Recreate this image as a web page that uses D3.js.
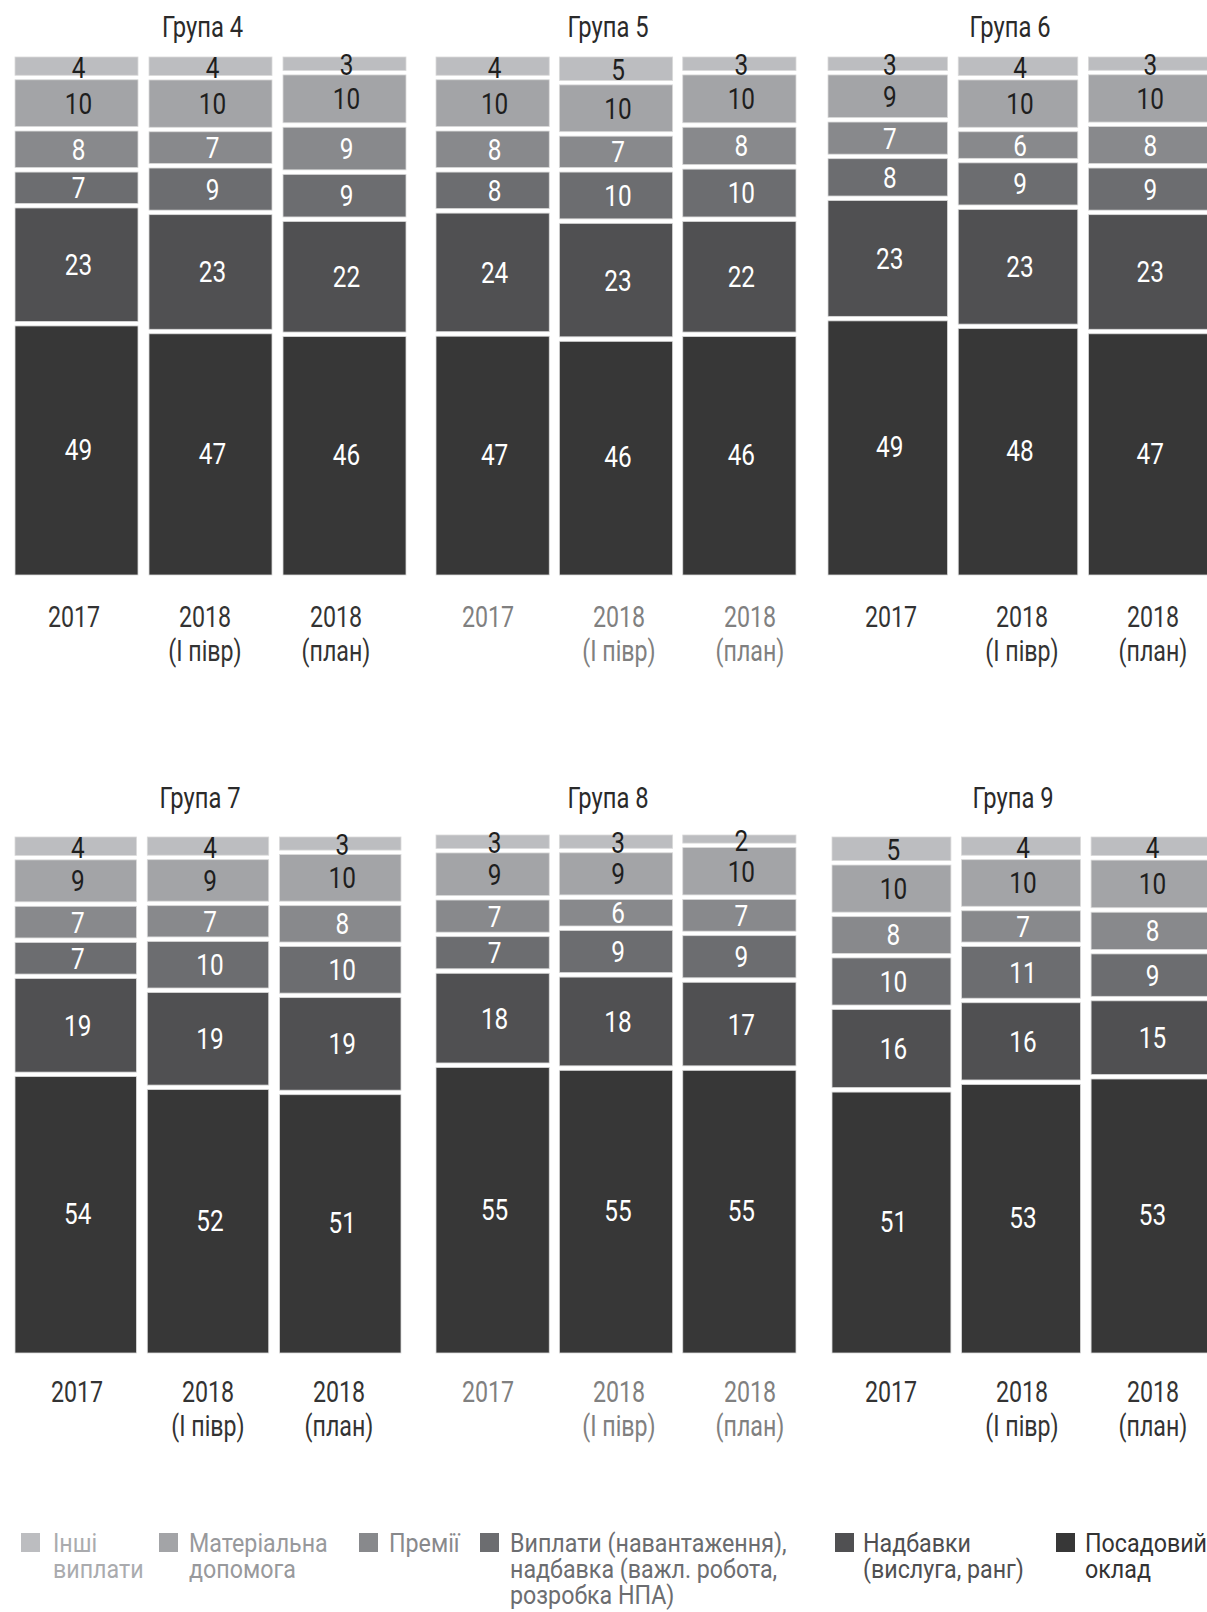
<!DOCTYPE html>
<html>
<head>
<meta charset="utf-8">
<script src="https://cdn.jsdelivr.net/npm/d3@7"></script>
<style>
  html, body { margin: 0; padding: 0; background: #fff; }
  svg { display: block; }
  text { font-family: "Roboto", "Liberation Sans", sans-serif; font-weight: 400; }
</style>
</head>
<body>
<svg id="chart" width="1207" height="1612"></svg>
<script>
// ---------------- DATA ----------------
const groups = ["Група 4", "Група 5", "Група 6", "Група 7", "Група 8", "Група 9"];
const periods = [["2017"], ["2018", "(І півр)"], ["2018", "(план)"]];
// stacking order: bottom -> top
const categories = ["Посадовий оклад", "Надбавки (вислуга, ранг)", "Виплати (навантаження), надбавка (важл. робота, розробка НПА)", "Премії", "Матеріальна допомога", "Інші виплати"];
// values[group][period]
const posadovyi   = [[49, 47, 46], [47, 46, 46], [49, 48, 47], [54, 52, 51], [55, 55, 55], [51, 53, 53]];
const nadbavky    = [[23, 23, 22], [24, 23, 22], [23, 23, 23], [19, 19, 19], [18, 18, 17], [16, 16, 15]];
const vyplaty     = [[7, 9, 9],    [8, 10, 10],  [8, 9, 9],    [7, 10, 10],  [7, 9, 9],    [10, 11, 9]];
const premii      = [[8, 7, 9],    [8, 7, 8],    [7, 6, 8],    [7, 7, 8],    [7, 6, 7],    [8, 7, 8]];
const materialna  = [[10, 10, 10], [10, 10, 10], [9, 10, 10],  [9, 9, 10],   [9, 9, 10],   [10, 10, 10]];
const inshi       = [[4, 4, 3],    [4, 5, 3],    [3, 4, 3],    [4, 4, 3],    [3, 3, 2],    [5, 4, 4]];
const legendLabels = [["Інші", "виплати"], ["Матеріальна", "допомога"], ["Премії"],
  ["Виплати (навантаження),", "надбавка (важл. робота,", "розробка НПА)"],
  ["Надбавки", "(вислуга, ранг)"], ["Посадовий", "оклад"]];

// ---------------- STYLE / LAYOUT ----------------
const seriesArrays = [posadovyi, nadbavky, vyplaty, premii, materialna, inshi];
const keys = ["posadovyi", "nadbavky", "vyplaty", "premii", "materialna", "inshi"];
const colors = ["#373737", "#505052", "#6c6d70", "#88898c", "#a3a4a7", "#bcbdc0"];
const labelColors = ["#ffffff", "#ffffff", "#ffffff", "#ffffff", "#1e1e1e", "#1e1e1e"];
const legendTextColors = ["#aaabae", "#98999c", "#88898c", "#6c6d70", "#4f4f51", "#333333"];

const panels = [
  { x: [15, 406],  y: [575, 57],   titleY: 37,  yearY: 627,  labelX0: 74,  yearColor: "#333" },
  { x: [436, 796], y: [575, 57],   titleY: 37,  yearY: 627,  labelX0: 488, yearColor: "#808080" },
  { x: [828, 1208], y: [575, 57],  titleY: 37,  yearY: 627,  labelX0: 891, yearColor: "#333" },
  { x: [15, 401],  y: [1353, 837], titleY: 808, yearY: 1402, labelX0: 77,  yearColor: "#333" },
  { x: [436, 796], y: [1353, 835], titleY: 808, yearY: 1402, labelX0: 488, yearColor: "#808080" },
  { x: [832, 1210], y: [1353, 837], titleY: 808, yearY: 1402, labelX0: 891, yearColor: "#333" }
];
const labelStep = 131;
const gap = 4.5;

const svg = d3.select("#chart");
const stack = d3.stack().keys(keys).offset(d3.stackOffsetExpand);

function condensedText(parent, x, y, lines, lineH, opts) {
  const t = parent.append("text")
    .attr("transform", `translate(${x},${y}) scale(${opts.sx || 0.8},1)`)
    .attr("x", 0).attr("y", 0)
    .attr("font-size", opts.size)
    .attr("fill", opts.fill)
    .attr("text-anchor", opts.anchor || "start");
  lines.forEach((ln, k) => {
    t.append("tspan").attr("x", 0).attr("dy", k === 0 ? (opts.dy || 0) : lineH).text(ln);
  });
  return t;
}

groups.forEach((gName, gi) => {
  const p = panels[gi];
  const rows = periods.map((per, pi) => {
    const r = { period: pi };
    keys.forEach((k, ki) => r[k] = seriesArrays[ki][gi][pi]);
    return r;
  });
  const series = stack(rows);
  const x = d3.scaleBand().domain(d3.range(periods.length)).range(p.x).paddingInner(0.082).paddingOuter(0);
  const y = d3.scaleLinear().domain([0, 1]).range(p.y);
  const g = svg.append("g");

  const top = d => y(d[1]) + (d[1] < 0.9999 ? gap / 2 : 0);
  const bot = d => y(d[0]) - (d[0] > 0.0001 ? gap / 2 : 0);

  series.forEach((s, si) => {
    g.append("g").selectAll("rect").data(s).join("rect")
      .attr("x", (d, i) => x(i))
      .attr("width", x.bandwidth())
      .attr("y", top)
      .attr("height", d => bot(d) - top(d))
      .attr("fill", colors[si])
      .attr("stroke", "#dadada")
      .attr("stroke-width", 0.8);
  });
  series.forEach((s, si) => {
    s.forEach((d, i) => {
      condensedText(g, x(i) + x.bandwidth() / 2 + 2, (y(d[0]) + y(d[1])) / 2, [String(d.data[s.key])], 0,
        { size: 29, sx: 0.84, fill: labelColors[si], anchor: "middle", dy: "0.36em" });
    });
  });

  // title
  condensedText(g, x(1) + x.bandwidth() / 2 - 8, p.titleY, [gName], 0,
    { size: 29, sx: 0.82, fill: "#2a2a2a", anchor: "middle" });

  // period labels
  periods.forEach((lines, pi) => {
    condensedText(g, p.labelX0 + pi * labelStep, p.yearY, lines, 34,
      { size: 29, sx: 0.8, fill: p.yearColor, anchor: "middle" });
  });
});

// legend (left -> right: top of stack first)
const legendSquareX = [21, 159, 359, 480, 835, 1056];
const legendTextX = [53, 189, 389, 510, 863, 1085];
const legendOrder = [5, 4, 3, 2, 1, 0];
const lg = svg.append("g");
legendOrder.forEach((ci, li) => {
  lg.append("rect")
    .attr("x", legendSquareX[li]).attr("y", 1533)
    .attr("width", 19).attr("height", 19)
    .attr("fill", colors[ci]);
  condensedText(lg, legendTextX[li], 1552, legendLabels[li], 26,
    { size: 25, sx: 0.93, fill: legendTextColors[li] });
});
</script>
</body>
</html>
